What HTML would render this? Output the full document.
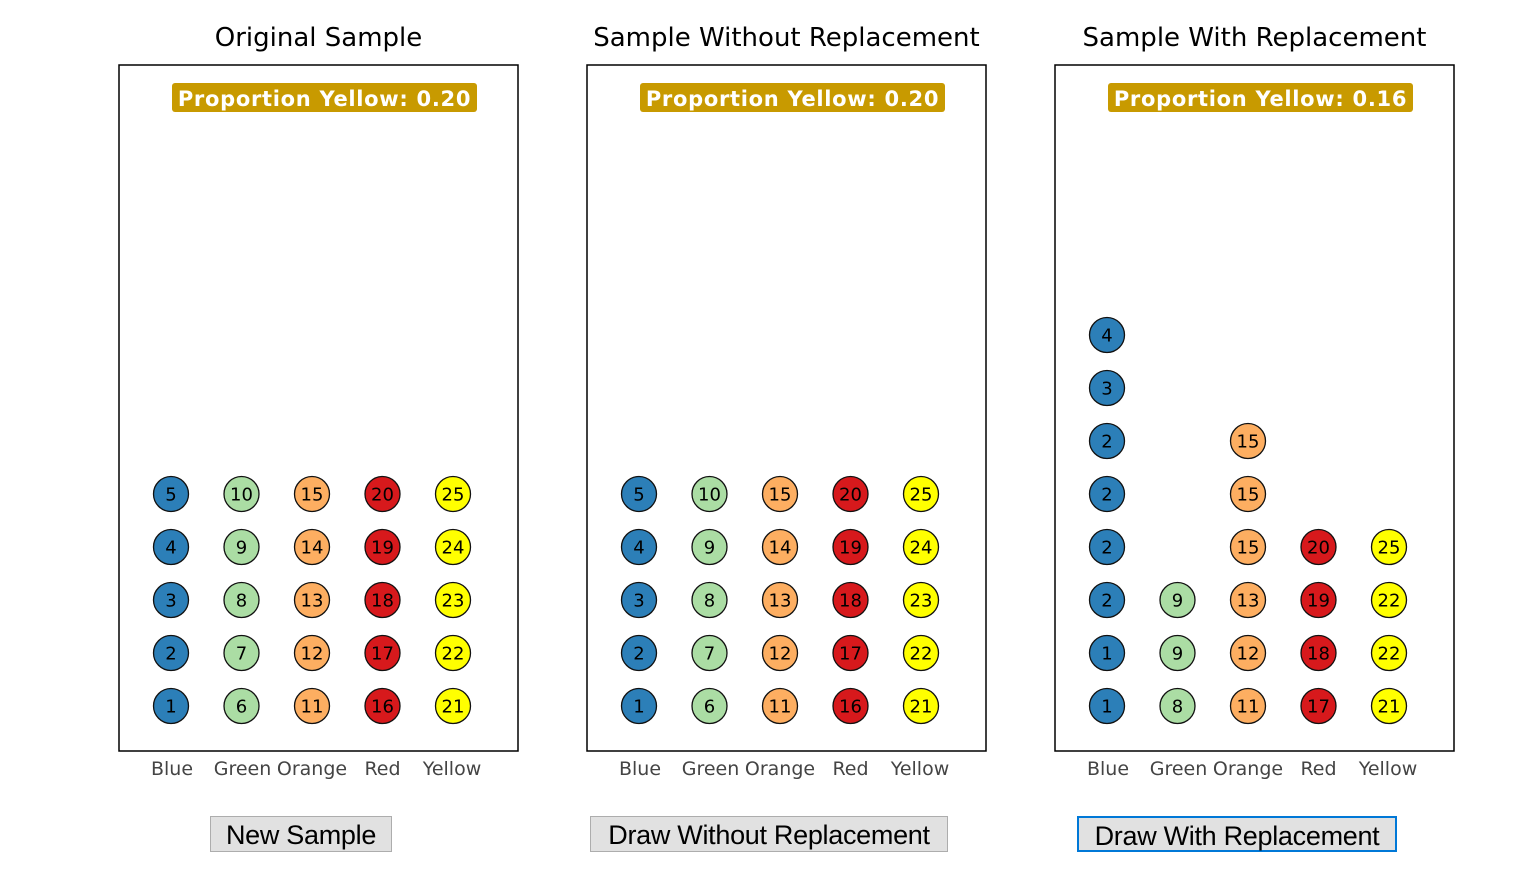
<!DOCTYPE html>
<html><head><meta charset="utf-8"><style>
body{margin:0;background:#fff;width:1535px;height:882px;overflow:hidden;font-family:"DejaVu Sans","Liberation Sans",sans-serif}
.btn{position:absolute;top:816px;height:36px;background:#e1e1e1;border:1px solid #adadad;font-family:"Liberation Sans",sans-serif;font-size:27px;line-height:37px;text-align:center;color:#000;box-sizing:border-box;letter-spacing:-0.3px}
</style></head><body>
<svg id="chart" width="1535" height="800" style="position:absolute;left:0;top:0" xmlns="http://www.w3.org/2000/svg"></svg>
<div class="btn" style="left:210px;width:182px">New Sample</div>
<div class="btn" style="left:590px;width:358px">Draw Without Replacement</div>
<div class="btn" style="left:1077px;width:320px;border:2px solid #0078d7">Draw With Replacement</div>
<script>
const categories=["Blue","Green","Orange","Red","Yellow"];
const colors=["#2c7fb8","#abdda4","#fdae61","#d7191c","#ffff00"];
const titles=["Original Sample","Sample Without Replacement","Sample With Replacement"];
const proportions=["0.20","0.20","0.16"];
const original=[[1,2,3,4,5],[6,7,8,9,10],[11,12,13,14,15],[16,17,18,19,20],[21,22,23,24,25]];
const withoutRepl=[[1,2,3,4,5],[6,7,8,9,10],[11,12,13,14,15],[16,17,18,19,20],[21,22,23,24,25]];
const withRepl=[[1,1,2,2,2,2,3,4],[8,9,9],[11,12,13,15,15,15],[17,18,19,20],[21,22,22,25]];
const panelsData=[original,withoutRepl,withRepl];
const NS="http://www.w3.org/2000/svg";
const svg=document.getElementById('chart');
function mk(t,a,p){const e=document.createElementNS(NS,t);for(const k in a)e.setAttribute(k,a[k]);(p||svg).appendChild(e);return e;}
const panelX=[119,587,1055],PW=399,PT=65,PB=751;
const labelShift=[1,1,0,0,-1];
function xScale(p,i){return panelX[p]+52+i*70.5;}
function yScale(k){return 706-k*53;}
panelsData.forEach((data,p)=>{
  const g=mk('g',{});
  
  
  const t=mk('text',{x:panelX[p]+PW/2,y:46,'text-anchor':'middle','font-size':'26'},g);
  t.textContent=titles[p];
  
  
  const r=mk('rect',{x:panelX[p],y:PT,width:PW,height:PB-PT,fill:'#fff',stroke:'#000','stroke-width':1.5},g);
  
  
  const b=mk('rect',{x:panelX[p]+53,y:83,width:305,height:29,rx:3,fill:'#c89a00'},g);
  
  
  const bt=mk('text',{x:panelX[p]+205.5,y:106,'text-anchor':'middle','font-size':'21','font-weight':'bold',fill:'#fff','letter-spacing':'0.7'},g);
  bt.textContent='Proportion Yellow: '+proportions[p];
  
  
  categories.forEach((c,i)=>{
    const lt=mk('text',{x:xScale(p,i)+labelShift[i],y:775,'text-anchor':'middle','font-size':'19',fill:'#444'},g);
    lt.textContent=c;
    
    
    data[i].forEach((v,k)=>{
      const cx=xScale(p,i),cy=yScale(k);
      const ci=mk('circle',{cx:cx,cy:cy,r:17.5,fill:colors[i],stroke:'#111','stroke-width':1.3},g);
      
      
      const tx=mk('text',{x:cx,y:cy+6.5,'text-anchor':'middle','font-size':'18'},g);
      tx.textContent=v;
      
      
    });
  });
});
</script>
</body></html>
